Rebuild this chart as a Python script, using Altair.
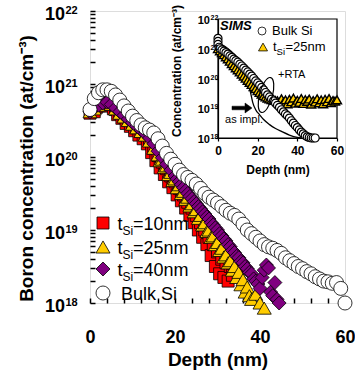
import altair as alt
import pandas as pd

FONT = "Liberation Sans"

# ---------------- main panel: depth (nm) and log10(concentration) ----------------
red_depth = [0, 0.5, 1, 1.5, 2, 2.5, 3, 3.5, 4, 4.5,
             5, 5.5, 6, 6.5, 7, 7.5, 8, 8.5, 9, 9.5,
             10, 10.5, 11, 11.5, 12, 12.5, 13, 13.5, 14, 14.5,
             15, 15.5, 16, 16.5, 17, 17.5, 18, 18.5, 19, 19.5,
             20, 20.5, 21, 21.5, 22, 22.5, 23, 23.5, 24, 24.5,
             25, 25.5, 26, 26.5, 27, 27.5, 28, 28.5, 29, 29.5,
             30, 30.5, 31, 31.5, 32, 32.5, 33, 33.5, 34, 34.5,
             35]
red_log = [20.60, 20.64, 20.62, 20.68, 20.70, 20.72, 20.70, 20.75, 20.73, 20.70,
           20.72, 20.66, 20.65, 20.58, 20.60, 20.53, 20.55, 20.46, 20.50, 20.42,
           20.45, 20.36, 20.40, 20.30, 20.35, 20.25, 20.30, 20.18, 20.24, 20.06,
           20.12, 19.95, 20.02, 19.85, 19.93, 19.76, 19.84, 19.66, 19.74, 19.58,
           19.66, 19.48, 19.57, 19.40, 19.48, 19.30, 19.38, 19.20, 19.30, 19.10,
           19.20, 19.00, 19.10, 18.90, 19.00, 18.80, 18.90, 18.65, 18.80, 18.50,
           18.70, 18.40, 18.60, 18.35, 18.55, 18.30, 18.50, 18.38, 18.60, 18.45,
           18.55]

yel_depth = [0, 1, 2, 3, 4, 5, 6, 7, 8, 9, 10, 11, 12, 13, 14, 15, 16,
             16.5, 17, 17.5, 18, 18.5, 19, 19.5, 20, 20.5, 21, 21.5, 22, 22.5, 23, 23.5,
             24, 24.5, 25, 25.5, 26, 26.5, 27, 27.5, 28, 28.5, 29, 29.5, 30, 30.5, 31,
             31.5, 32, 32.5, 33, 33.5, 34, 34.5, 35, 35.5, 36, 36.5, 37, 37.5, 38,
             39, 40, 41]
yel_log = [20.62, 20.66, 20.71, 20.74, 20.75, 20.72, 20.66, 20.60, 20.55, 20.50, 20.45,
           20.40, 20.35, 20.30, 20.22, 20.12, 20.03,
           19.95, 19.97, 19.86, 19.88, 19.76, 19.79, 19.68, 19.70, 19.58, 19.62, 19.50,
           19.53, 19.42, 19.45, 19.33, 19.36, 19.25, 19.28, 19.16, 19.20, 19.07, 19.10,
           18.98, 19.00, 18.90, 18.92, 18.80, 18.83, 18.72, 18.75, 18.63, 18.66, 18.55,
           18.58, 18.45, 18.50, 18.35, 18.42, 18.25, 18.32, 18.15, 18.22, 18.10, 18.05,
           18.12, 18.00, 17.93]

pur_depth = [0, 1, 2, 3, 4, 5, 6, 7, 8, 9, 10, 11, 12, 13, 14, 15, 16, 17, 18, 19, 20,
             20.5, 21, 21.5, 22, 22.5, 23, 23.5, 24, 24.5, 25,
             25.5, 26, 26.5, 27, 27.5, 28, 28.5, 29, 29.5, 30,
             30.5, 31, 31.5, 32, 32.5, 33, 33.5, 34, 34.5, 35,
             35.5, 36, 36.5, 37, 37.5, 38, 38.5, 39, 39.5, 40,
             40.5, 41, 41.5, 42, 42.5, 43, 43.5, 44, 44.5]
pur_log = [20.62, 20.67, 20.71, 20.74, 20.75, 20.72, 20.67, 20.62, 20.57, 20.52, 20.47,
           20.42, 20.37, 20.32, 20.26, 20.18, 20.08, 19.99, 19.90, 19.82, 19.74,
           19.70, 19.66, 19.62, 19.58, 19.54, 19.50, 19.46, 19.43, 19.39, 19.36,
           19.32, 19.29, 19.25, 19.22, 19.18, 19.15, 19.10, 19.07, 19.03, 19.00,
           18.95, 18.92, 18.88, 18.85, 18.80, 18.77, 18.72, 18.69, 18.64, 18.62,
           18.57, 18.55, 18.50, 18.47, 18.42, 18.40, 18.33, 18.30, 18.26, 18.20,
           18.35, 18.45, 18.52, 18.48, 18.15, 18.10, 18.28, 18.05, 18.00]

bulk_depth = [0, 1, 2, 3, 4, 5, 6, 7, 8, 9, 10, 11, 12, 13, 14, 15, 16, 17, 18, 19, 20,
              21, 22, 23, 24, 25, 26, 27, 28, 29, 30, 31, 32, 33, 34, 35, 36, 37, 38, 39, 40,
              41, 42, 43, 44, 45, 46, 47, 48, 49, 50, 51, 52, 53, 54, 55, 56, 57, 58, 59, 60]
bulk_log = [20.65, 20.80, 20.88, 20.92, 20.92, 20.90, 20.85, 20.78, 20.70, 20.63,
            20.56, 20.50, 20.44, 20.40, 20.37, 20.33, 20.25, 20.15, 20.05, 19.97,
            19.90, 19.82, 19.76, 19.72, 19.68, 19.63, 19.57, 19.50, 19.45, 19.41,
            19.37, 19.32, 19.27, 19.23, 19.20, 19.15, 19.08, 19.00, 18.95, 18.90,
            18.85, 18.80, 18.77, 18.75, 18.72, 18.68, 18.62, 18.58, 18.54, 18.50,
            18.47, 18.43, 18.40, 18.36, 18.33, 18.30, 18.29, 18.27, 18.28, 18.20,
            18.00]

# ---------------- inset (SIMS) ----------------
sims_bulk_depth = [0, 0, 0, 0.5, 1, 2, 3, 4, 5, 6, 7, 8, 9, 10,
                   11, 12, 13, 14, 15, 16, 17, 18, 19, 20,
                   21, 22, 23, 24, 25, 26, 27, 28, 29, 30,
                   31, 32, 33, 34, 35, 36, 37, 38, 39, 40,
                   41, 42, 43, 44, 45, 46, 47, 48, 49]
sims_bulk_log = [21.35, 21.25, 21.15, 21.05, 21.00, 20.96, 20.92, 20.87, 20.82, 20.76,
                 20.71, 20.65, 20.60, 20.55,
                 20.48, 20.42, 20.35, 20.28, 20.22, 20.15, 20.08, 20.00, 19.92, 19.85,
                 19.78, 19.70, 19.62, 19.53, 19.45, 19.38, 19.31, 19.25, 19.17, 19.10,
                 19.03, 18.95, 18.88, 18.81, 18.75, 18.67, 18.58, 18.50, 18.42, 18.35,
                 18.27, 18.20, 18.14, 18.08, 18.04, 18.02, 18.00, 18.00, 18.00]

sims_25_depth = [0, 1, 2, 3, 4, 5, 6, 7, 8, 9, 10, 11, 12, 13, 14, 15, 16, 17, 18, 19,
                 20, 21, 22, 23, 24, 25, 26, 27, 28, 29, 30, 31, 32, 33, 34, 35, 36, 37, 38, 39,
                 40, 41, 42, 43, 44, 45, 46, 47, 48, 49, 50, 51, 52, 53, 54, 55, 56, 57, 58, 59, 60]
sims_25_log = [21.00, 20.93, 20.87, 20.80, 20.73, 20.66, 20.58, 20.50, 20.43, 20.36,
               20.29, 20.22, 20.15, 20.08, 20.01, 19.94, 19.87, 19.80, 19.73, 19.66,
               19.59, 19.53, 19.47, 19.42, 19.38, 19.34, 19.31, 19.29, 19.27, 19.26,
               19.25, 19.18, 19.32, 19.20, 19.28, 19.15, 19.30, 19.22, 19.34, 19.17,
               19.27, 19.20, 19.33, 19.16, 19.29, 19.23, 19.31, 19.14, 19.26, 19.21,
               19.32, 19.18, 19.28, 19.15, 19.30, 19.22, 19.33, 19.19, 19.26, 19.24,
               19.28]

impl_depth = [0, 3, 6, 9, 11, 13, 14.5, 15.5, 16.5, 17.5, 19, 21, 23, 26, 29, 32, 36, 40, 42]
impl_log = [21.20, 21.10, 20.95, 20.75, 20.55, 20.30, 20.05, 19.80, 19.50, 19.20,
            18.95, 18.78, 18.62, 18.45, 18.32, 18.22, 18.10, 18.02, 18.00]

# ---------------- axis ticks / labels ----------------
main_x_ticks = [0, 4, 8, 12, 16, 20, 24, 28, 32, 36, 40, 44, 48, 52, 56, 60]
inset_x_ticks = [0, 20, 40, 60]
decades = [1e18, 1e19, 1e20, 1e21, 1e22]
decade_base = ["10", "10", "10", "10", "10"]
decade_exp = ["18", "19", "20", "21", "22"]
main_y_ticks = [m * 10.0 ** e for e in range(18, 22) for m in range(1, 10)] + [1e22]

legend_names = ["=10nm", "=25nm", "=40nm"]


def frame(depth, logs):
    return pd.DataFrame({"depth": depth, "conc": [10.0 ** v for v in logs]})


dummy = pd.DataFrame({"a": [0]})
dec_df = pd.DataFrame({"conc": decades, "base": decade_base, "exp": decade_exp})

# ---------------- scales & axes ----------------
main_xs = alt.Scale(domain=[0, 60], nice=False, zero=False)
main_ys = alt.Scale(type="log", domain=[1e18, 1e22], nice=False)
inset_xs = alt.Scale(domain=[0, 60], range=[128, 247], nice=False, zero=False)
inset_ys = alt.Scale(type="log", domain=[1e18, 1e22], range=[127, 8], nice=False)

ax_x_main = alt.Axis(
    title="Depth (nm)", values=main_x_ticks,
    labelExpr="datum.value % 20 === 0 ? datum.label : ''",
    orient="bottom", offset=-5, tickSize=5, tickWidth=1.5, tickColor="black",
    domain=False, grid=False, labelPadding=25, labelFont=FONT, labelFontSize=18,
    labelFontWeight="bold", labelColor="black", labelFlush=False, labelOverlap=False,
    titleFont=FONT, titleFontSize=19, titleFontWeight="bold", titleColor="black",
    titlePadding=4)
ax_y_main = alt.Axis(
    title="Boron concentration (at/cm⁻³)", values=main_y_ticks, labels=False,
    orient="left", offset=-5, tickSize=5, tickWidth=1.5, tickColor="black",
    domain=False, grid=False,
    titleFont=FONT, titleFontSize=19, titleFontWeight="bold", titleColor="black",
    titleX=-69, titleY=157, titleBaseline="middle", titleAlign="center")
ax_x_in = alt.Axis(
    title="Depth (nm)", values=inset_x_ticks, orient="bottom", offset=-165,
    tickSize=3, tickWidth=1.2, tickColor="black", domain=True, domainColor="black",
    domainWidth=1.2, grid=False, labelPadding=4, labelFont=FONT, labelFontSize=12,
    labelFontWeight="bold", labelColor="black", labelFlush=False, labelOverlap=False,
    titleFont=FONT, titleFontSize=12, titleFontWeight="bold", titleColor="black",
    titlePadding=8)
ax_y_in = alt.Axis(
    title="Concentration (at/cm⁻³)", values=decades, labels=False,
    orient="left", offset=-128, tickSize=3, tickWidth=1.2, tickColor="black",
    domain=True, domainColor="black", domainWidth=1.2, grid=False,
    titleFont=FONT, titleFontSize=12, titleFontWeight="bold", titleColor="black",
    titleX=-42, titleY=59.5, titleBaseline="middle", titleAlign="center")

X_MAIN = alt.X("depth:Q", scale=main_xs, axis=ax_x_main)
Y_MAIN = alt.Y("conc:Q", scale=main_ys, axis=ax_y_main)
X_IN = alt.X("depth:Q", scale=inset_xs, axis=ax_x_in)
Y_IN = alt.Y("conc:Q", scale=inset_ys, axis=ax_y_in)

RED, GOLD, PURPLE = "#FF0000", "#FFCC00", "#800080"


def series(df, shape, fill, size, X, Y, sw=0.8):
    return alt.Chart(df).mark_point(
        shape=shape, filled=True, fill=fill, stroke="black", strokeWidth=sw,
        size=size, opacity=1).encode(x=X, y=Y)


def sym(x, y, shape, fill, size, sw=0.8):
    return alt.Chart(dummy).mark_point(
        shape=shape, filled=True, fill=fill, stroke="black", strokeWidth=sw,
        size=size, opacity=1).encode(x=alt.value(x), y=alt.value(y))


def txt(x, y, s, size, weight="normal", style="normal", align="left"):
    return alt.Chart(dummy).mark_text(
        text=s, font=FONT, fontSize=size, fontWeight=weight, fontStyle=style,
        align=align, baseline="middle", color="black").encode(
        x=alt.value(x), y=alt.value(y))


def decade_labels(Y, x_base, base_size, exp_size, dy_base, dy_exp):
    base = alt.Chart(dec_df).mark_text(
        font=FONT, fontSize=base_size, fontWeight="bold", align="right",
        baseline="middle", dy=dy_base, color="black").encode(
        x=alt.value(x_base), y=Y, text="base:N")
    exp = alt.Chart(dec_df).mark_text(
        font=FONT, fontSize=exp_size, fontWeight="bold", align="left",
        baseline="middle", dy=dy_exp, color="black").encode(
        x=alt.value(x_base + 0.5), y=Y, text="exp:N")
    return [base, exp]


# ---------------- main layer ----------------
main_layers = [
    series(frame(red_depth, red_log), "square", RED, 144, X_MAIN, Y_MAIN),
    series(frame(yel_depth, yel_log), "triangle-up", GOLD, 196, X_MAIN, Y_MAIN),
    series(frame(pur_depth, pur_log), "diamond", PURPLE, 196, X_MAIN, Y_MAIN),
    series(frame(bulk_depth, bulk_log), "circle", "white", 196, X_MAIN, Y_MAIN),
]
main_layers += decade_labels(Y_MAIN, -25, 18, 11, 4, 0)
rows = [212, 236, 258, 282]
shapes = [("square", RED, 144), ("triangle-up", GOLD, 196), ("diamond", PURPLE, 196)]
for (shp, col, sz), ry, name in zip(shapes, rows[:3], legend_names):
    main_layers += [
        sym(13, ry, shp, col, sz),
        txt(27.5, ry + 2, "t", 18),
        txt(32.5, ry + 8, "Si", 12),
        txt(43, ry + 2, name, 18),
    ]
main_layers += [sym(13, rows[3], "circle", "white", 196), txt(31, rows[3] + 2, "Bulk Si", 18)]
main = alt.layer(*main_layers)

# ---------------- inset layer ----------------
box = pd.DataFrame({"x0": [0], "x1": [60], "y0": [1e18], "y1": [1e22]})
ellipse = "M 0 -1 A 0.36 1 0 1 1 0 1 A 0.36 1 0 1 1 0 -1 Z"
arrow = "M -1 -0.18 L 0.3 -0.18 L 0.3 -0.5 L 1 0 L 0.3 0.5 L 0.3 0.18 L -1 0.18 Z"

inset_layers = [
    alt.Chart(box).mark_rect(fillOpacity=0, stroke="black", strokeWidth=1.2).encode(
        x=alt.X("x0:Q", scale=inset_xs, axis=ax_x_in), x2="x1:Q",
        y=alt.Y("y0:Q", scale=inset_ys, axis=ax_y_in), y2="y1:Q"),
    alt.Chart(frame(impl_depth, impl_log)).mark_line(
        color="black", strokeWidth=1.3, interpolate="monotone").encode(x=X_IN, y=Y_IN),
    series(frame(sims_25_depth, sims_25_log), "triangle-up", GOLD, 81, X_IN, Y_IN, 1.4),
    series(frame(sims_bulk_depth, sims_bulk_log), "circle", "white", 64, X_IN, Y_IN, 1.2),
    alt.Chart(dummy).mark_point(shape=ellipse, filled=False, stroke="black",
                                strokeWidth=1.2, size=1296, angle=15, opacity=1).encode(
        x=alt.value(176), y=alt.value(84)),
    alt.Chart(dummy).mark_point(shape=arrow, filled=True, fill="black", stroke="black",
                                strokeWidth=0.5, size=400, opacity=1).encode(
        x=alt.value(152), y=alt.value(97)),
    txt(188, 64, "+RTA", 11),
    txt(154, 109, "as impl.", 11, align="center"),
    txt(130, 15, "SIMS", 13, weight="bold", style="italic"),
    sym(172, 20, "circle", "white", 64),
    txt(182, 20, "Bulk Si", 13),
    sym(173, 36, "triangle-up", GOLD, 81),
    txt(183, 36, "t", 13),
    txt(186.6, 40.5, "Si", 9.5),
    txt(195.5, 36, "=25nm", 13),
]
inset_layers += decade_labels(Y_IN, 120, 11, 7, 2, -1)
inset = alt.layer(*inset_layers)

chart = alt.layer(main, inset).resolve_scale(
    x="independent", y="independent"
).properties(
    width=255, height=292,
    padding={"left": 90, "top": 11, "right": 10, "bottom": 67},
    autosize=alt.AutoSizeParams(type="none"),
).configure_view(stroke="black", strokeWidth=1.5).configure(font=FONT)

chart.save("out.html", embed_options={"renderer": "svg", "actions": False})
